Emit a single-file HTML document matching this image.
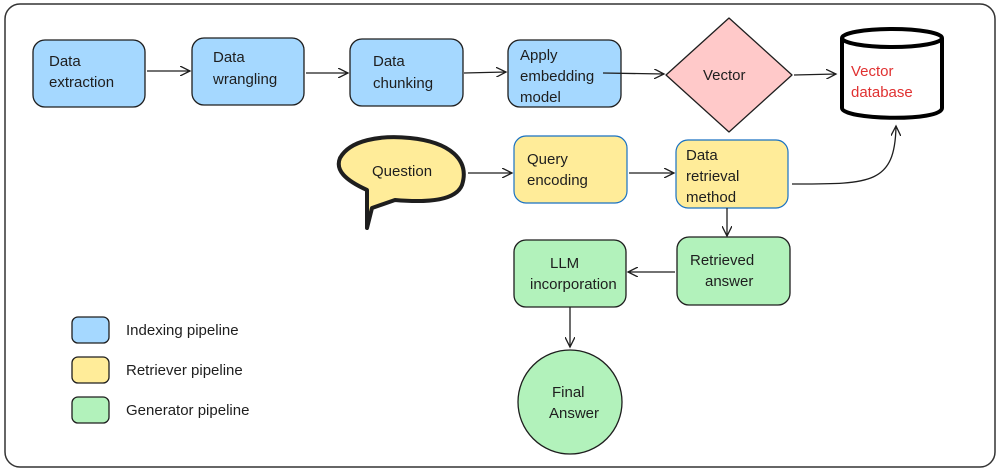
<!DOCTYPE html>
<html><head><style>body{margin:0;background:#fff}svg{display:block}text{font-family:"Liberation Sans",sans-serif;font-size:15px;fill:#1e1e1e}</style></head><body>
<svg width="1000" height="471" viewBox="0 0 1000 471" xmlns="http://www.w3.org/2000/svg">
<defs><marker id="a" markerWidth="12" markerHeight="10" refX="10" refY="5" orient="auto" markerUnits="userSpaceOnUse"><path d="M0,0 L10,5 L0,10" fill="none" stroke="#1e1e1e" stroke-width="1.3"/></marker></defs>
<rect x="5" y="4" width="990" height="463" rx="15" fill="#fff" stroke="#333" stroke-width="1.5"/>
<g stroke="#1e1e1e" stroke-width="1.3">
<rect x="33" y="40" width="112" height="67" rx="12" fill="#a5d8ff"/>
<rect x="192" y="38" width="112" height="67" rx="12" fill="#a5d8ff"/>
<rect x="350" y="39" width="113" height="67" rx="12" fill="#a5d8ff"/>
<rect x="508" y="40" width="113" height="67" rx="12" fill="#a5d8ff"/>
<path d="M729,18 L792,75 L729,132 L666,75 Z" fill="#ffc9c9" stroke-linejoin="round"/>
<rect x="677" y="237" width="113" height="68" rx="12" fill="#b2f2bb"/>
<rect x="514" y="240" width="112" height="67" rx="12" fill="#b2f2bb"/>
<circle cx="570" cy="402" r="52" fill="#b2f2bb"/>
<rect x="72" y="317" width="37" height="26" rx="6" fill="#a5d8ff"/>
<rect x="72" y="357" width="37" height="26" rx="6" fill="#ffec99"/>
<rect x="72" y="397" width="37" height="26" rx="6" fill="#b2f2bb"/>
</g>
<g stroke="#1971c2" stroke-width="1.2" fill="#ffec99">
<rect x="514" y="136" width="113" height="67" rx="12"/>
<rect x="676" y="140" width="112" height="68" rx="12"/>
</g>
<path d="M340,158 C350,140 380,135 410,138 C450,142 470,160 462,185 C456,200 430,203 395,200 L372,208 L367,228 L367,190 C345,180 335,170 340,158 Z" fill="#ffec99" stroke="#1e1e1e" stroke-width="4" stroke-linejoin="round"/>
<path d="M842,38 L842,108 C842,120 942,122 942,108 L942,38" fill="#fff" stroke="#000" stroke-width="4"/>
<ellipse cx="892" cy="38" rx="50" ry="9" fill="#fff" stroke="#000" stroke-width="4"/>
<g stroke="#1e1e1e" stroke-width="1.3" fill="none" marker-end="url(#a)">
<path d="M147,71 L190,71"/><path d="M306,73 L348,73"/><path d="M464,73 L506,72"/>
<path d="M603,73 L664,74"/><path d="M794,75 L836,74"/>
<path d="M468,173 L512,173"/><path d="M629,173 L674,173"/>
<path d="M792,184 C870,184 895,185 896,126"/>
<path d="M727,208 L727,236"/><path d="M675,272 L628,272"/><path d="M570,307 L570,347"/>
</g>
<text x="49" y="66">Data</text><text x="49" y="87">extraction</text>
<text x="213" y="62">Data</text><text x="213" y="84">wrangling</text>
<text x="373" y="66">Data</text><text x="373" y="88">chunking</text>
<text x="520" y="60">Apply</text><text x="520" y="81">embedding</text><text x="520" y="102">model</text>
<text x="703" y="80">Vector</text>
<text x="851" y="76" style="fill:#e03131">Vector</text><text x="851" y="97" style="fill:#e03131">database</text>
<text x="372" y="176">Question</text>
<text x="527" y="164">Query</text><text x="527" y="185">encoding</text>
<text x="686" y="160">Data</text><text x="686" y="181">retrieval</text><text x="686" y="202">method</text>
<text x="690" y="265">Retrieved</text><text x="705" y="286">answer</text>
<text x="550" y="268">LLM</text><text x="530" y="289">incorporation</text>
<text x="552" y="397">Final</text><text x="549" y="418">Answer</text>
<text x="126" y="335">Indexing pipeline</text>
<text x="126" y="375">Retriever pipeline</text>
<text x="126" y="415">Generator pipeline</text>
</svg>
</body></html>
